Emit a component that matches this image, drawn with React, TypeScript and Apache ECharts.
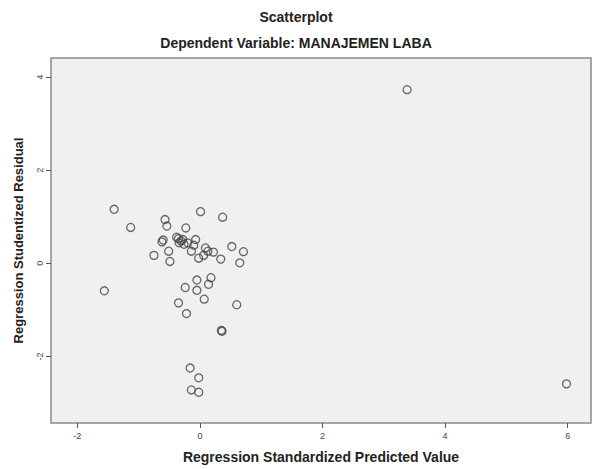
import React, { useEffect, useRef } from "react";
import * as echarts from "echarts";

const titleMain = "Scatterplot";
const titleSub = "Dependent Variable: MANAJEMEN LABA";
const xAxisName = "Regression Standardized Predicted Value";
const yAxisName = "Regression Studentized Residual";

const xTicks = [-2, 0, 2, 4, 6];
const yTicks = [-2, 0, 2, 4];

// Regression Standardized Predicted Value
const predicted = [
  3.38, 5.98, -1.56, -1.4, -1.13, -0.57, -0.54, -0.62, -0.6, -0.75,
  -0.51, -0.49, 0.01, 0.37, -0.23, -0.35, -0.31, -0.34, -0.26, -0.2,
  -0.07, -0.1, -0.14, 0.09, 0.22, 0.13, -0.02, 0.06, 0.34, 0.52,
  0.71, 0.65, -0.05, 0.18, 0.14, -0.24, -0.05, 0.07, -0.35, 0.6,
  -0.22, 0.36, 0.35, -0.16, -0.02, -0.14, -0.02, -0.38, -0.28,
];
// Regression Studentized Residual
const residual = [
  3.73, -2.59, -0.59, 1.16, 0.77, 0.94, 0.8, 0.46, 0.5, 0.17,
  0.26, 0.04, 1.11, 0.99, 0.76, 0.53, 0.48, 0.44, 0.41, 0.44,
  0.51, 0.39, 0.26, 0.33, 0.24, 0.26, 0.11, 0.17, 0.09, 0.36,
  0.25, 0.01, -0.36, -0.31, -0.45, -0.52, -0.58, -0.77, -0.85, -0.89,
  -1.08, -1.46, -1.44, -2.25, -2.46, -2.72, -2.77, 0.56, 0.51,
];

const FONT = "'Liberation Sans', Arial, sans-serif";

export default function App() {
  const ref = useRef<HTMLDivElement>(null);
  useEffect(() => {
    document.body.style.margin = "0";
    const chart = echarts.init(ref.current!, undefined, { renderer: "svg" });
    const points = predicted.map((x, i) => [x, residual[i]]);
    chart.setOption({
      animation: false,
      backgroundColor: "#ffffff",
      title: [
        {
          text: titleMain,
          left: "center",
          top: 5,
          textStyle: { fontFamily: FONT, fontSize: 14, fontWeight: "bold", color: "#222" },
        },
        {
          text: titleSub,
          left: "center",
          top: 31,
          textStyle: { fontFamily: FONT, fontSize: 14, fontWeight: "bold", color: "#222" },
        },
      ],
      grid: {
        left: 51,
        top: 58,
        right: 1,
        bottom: 45,
        show: true,
        backgroundColor: "#f0f0f0",
        borderColor: "#8a8a8a",
        borderWidth: 1.5,
      },
      xAxis: {
        type: "value",
        min: -2.43,
        max: 6.38,
        name: xAxisName,
        nameLocation: "middle",
        nameGap: 27,
        nameTextStyle: { fontFamily: FONT, fontSize: 14, fontWeight: "bold", color: "#222" },
        axisLine: { show: false, onZero: false },
        splitLine: { show: false },
        axisTick: {
          show: true,
          length: 5,
          lineStyle: { color: "#555" },
          customValues: xTicks,
        },
        axisLabel: {
          fontFamily: FONT,
          fontSize: 9,
          color: "#444",
          margin: 8,
          customValues: xTicks,
        },
      },
      yAxis: {
        type: "value",
        min: -3.43,
        max: 4.41,
        name: yAxisName,
        nameLocation: "middle",
        nameGap: 26,
        nameTextStyle: { fontFamily: FONT, fontSize: 13, fontWeight: "bold", color: "#222" },
        axisLine: { show: false, onZero: false },
        splitLine: { show: false },
        axisTick: {
          show: true,
          length: 5,
          lineStyle: { color: "#555" },
          customValues: yTicks,
        },
        axisLabel: {
          fontFamily: FONT,
          fontSize: 9,
          color: "#444",
          margin: 7,
          rotate: 90,
          customValues: yTicks,
        },
      },
      series: [
        {
          type: "scatter",
          data: points,
          symbol: "circle",
          symbolSize: 8,
          itemStyle: { color: "transparent", borderColor: "#444", borderWidth: 1.3 },
        },
      ],
    });
    return () => chart.dispose();
  }, []);
  return (
    <div
      ref={ref}
      style={{ position: "fixed", left: 0, top: 0, width: 592, height: 469 }}
    />
  );
}
